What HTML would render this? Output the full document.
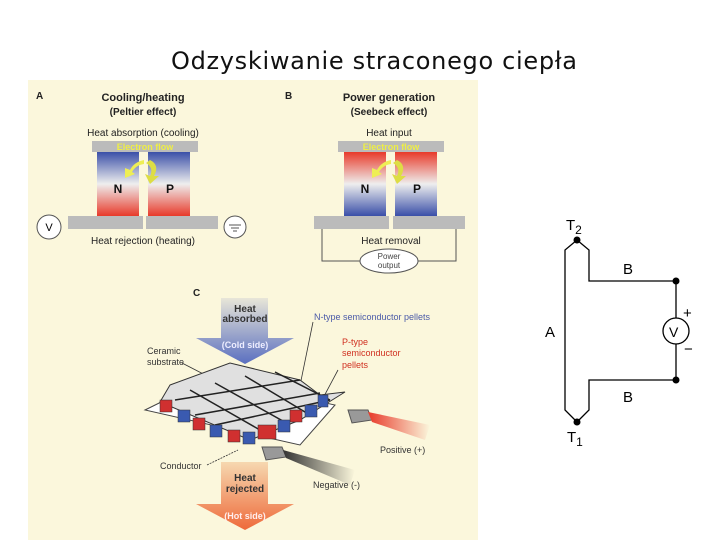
<!DOCTYPE html>
<html><head><meta charset="utf-8"><style>
body{margin:0;width:720px;height:540px;background:#fff;overflow:hidden;font-family:"Liberation Sans",sans-serif}
</style></head><body>
<svg width="720" height="540" viewBox="0 0 720 540" xmlns="http://www.w3.org/2000/svg" font-family="Liberation Sans, sans-serif">
<defs>
<linearGradient id="br" x1="0" y1="0" x2="0" y2="1"><stop offset="0" stop-color="#3a4fa8"/><stop offset="0.5" stop-color="#eee"/><stop offset="1" stop-color="#e83a2a"/></linearGradient>
<linearGradient id="rb" x1="0" y1="0" x2="0" y2="1"><stop offset="0" stop-color="#e83a2a"/><stop offset="0.5" stop-color="#eee"/><stop offset="1" stop-color="#3a4fa8"/></linearGradient>
<linearGradient id="blu" x1="0" y1="0" x2="0" y2="1"><stop offset="0" stop-color="#e8e6d8"/><stop offset="1" stop-color="#5a6fc0"/></linearGradient>
<linearGradient id="org" x1="0" y1="0" x2="0" y2="1"><stop offset="0" stop-color="#f6d8b0"/><stop offset="1" stop-color="#ee6a3a"/></linearGradient>
<linearGradient id="redw" x1="0" y1="0" x2="1" y2="0"><stop offset="0" stop-color="#e83a2a"/><stop offset="1" stop-color="#fbf7dc"/></linearGradient>
<linearGradient id="blkw" x1="0" y1="0" x2="1" y2="0"><stop offset="0" stop-color="#333"/><stop offset="1" stop-color="#fbf7dc"/></linearGradient>
</defs>
<text x="374" y="69" font-size="24" text-anchor="middle" fill="#111" textLength="406" lengthAdjust="spacing" font-family="DejaVu Sans, sans-serif">Odzyskiwanie straconego ciepła</text>
<rect x="28" y="80" width="450" height="460" fill="#fbf7dc"/>
<!-- A -->
<text x="36" y="99" font-size="10" font-weight="bold" fill="#222">A</text>
<text x="143" y="101" font-size="11" font-weight="bold" text-anchor="middle" fill="#222">Cooling/heating</text>
<text x="143" y="115" font-size="10" font-weight="bold" text-anchor="middle" fill="#222">(Peltier effect)</text>
<text x="143" y="136" font-size="10" text-anchor="middle" fill="#222">Heat absorption (cooling)</text>
<rect x="92" y="141" width="106" height="11" fill="#bbb"/>
<text x="145" y="150" font-size="9" font-weight="bold" text-anchor="middle" fill="#ee4">Electron flow</text>
<rect x="97" y="152" width="42" height="64" fill="url(#br)"/>
<rect x="148" y="152" width="42" height="64" fill="url(#br)"/>
<path d="M150 160 Q160 165 154 176 L159 176 L150 184 L145 174 L150 176 Q154 168 146 163Z" fill="#dd4"/>
<path d="M144 160 Q134 162 130 170 L125 168 L125 178 L135 174 L132 172 Q136 165 144 164Z" fill="#ee5"/>
<text x="118" y="193" font-size="12" font-weight="bold" text-anchor="middle" fill="#111">N</text>
<text x="170" y="193" font-size="12" font-weight="bold" text-anchor="middle" fill="#111">P</text>
<rect x="68" y="216" width="75" height="13" fill="#bbb"/><rect x="146" y="216" width="72" height="13" fill="#bbb"/>
<circle cx="49" cy="227" r="12" fill="#fff" stroke="#555"/><text x="49" y="231" font-size="11" text-anchor="middle">V</text>
<circle cx="235" cy="227" r="11" fill="#fff" stroke="#555"/>
<path d="M229 225h12M231 228h8M233 231h4" stroke="#555"/>
<text x="143" y="244" font-size="10" text-anchor="middle" fill="#222">Heat rejection (heating)</text>
<!-- B -->
<text x="285" y="99" font-size="10" font-weight="bold" fill="#222">B</text>
<text x="389" y="101" font-size="11" font-weight="bold" text-anchor="middle" fill="#222">Power generation</text>
<text x="389" y="115" font-size="10" font-weight="bold" text-anchor="middle" fill="#222">(Seebeck effect)</text>
<text x="389" y="136" font-size="10" text-anchor="middle" fill="#222">Heat input</text>
<rect x="338" y="141" width="106" height="11" fill="#bbb"/>
<text x="391" y="150" font-size="9" font-weight="bold" text-anchor="middle" fill="#ee4">Electron flow</text>
<rect x="344" y="152" width="42" height="64" fill="url(#rb)"/>
<rect x="395" y="152" width="42" height="64" fill="url(#rb)"/>
<path d="M397 160 Q407 165 401 176 L406 176 L397 184 L392 174 L397 176 Q401 168 393 163Z" fill="#dd4"/>
<path d="M391 160 Q381 162 377 170 L372 168 L372 178 L382 174 L379 172 Q383 165 391 164Z" fill="#ee5"/>
<text x="365" y="193" font-size="12" font-weight="bold" text-anchor="middle" fill="#111">N</text>
<text x="417" y="193" font-size="12" font-weight="bold" text-anchor="middle" fill="#111">P</text>
<rect x="314" y="216" width="75" height="13" fill="#bbb"/><rect x="393" y="216" width="72" height="13" fill="#bbb"/>
<path d="M322 229V261H360M418 261H456V229" fill="none" stroke="#555"/>
<text x="391" y="244" font-size="10" text-anchor="middle" fill="#222">Heat removal</text>
<ellipse cx="389" cy="261" rx="29" ry="12" fill="#fff" stroke="#555"/>
<text x="389" y="259" font-size="8" text-anchor="middle" fill="#444">Power</text>
<text x="389" y="268" font-size="8" text-anchor="middle" fill="#444">output</text>
<!-- C -->
<text x="193" y="296" font-size="10" font-weight="bold" fill="#222">C</text>
<path d="M221 298H268V338H294L245 364L196 338H221Z" fill="url(#blu)"/>
<text x="245" y="312" font-size="10" font-weight="bold" text-anchor="middle" fill="#333">Heat</text>
<text x="245" y="322" font-size="10" font-weight="bold" text-anchor="middle" fill="#333">absorbed</text>
<text x="245" y="348" font-size="9" font-weight="bold" text-anchor="middle" fill="#eef">(Cold side)</text>
<text x="314" y="320" font-size="9" fill="#4a5aa8">N-type semiconductor pellets</text>
<text x="342" y="345" font-size="9" fill="#d03020">P-type</text>
<text x="342" y="356" font-size="9" fill="#d03020">semiconductor</text>
<text x="342" y="368" font-size="9" fill="#d03020">pellets</text>
<text x="147" y="354" font-size="9" fill="#333">Ceramic</text>
<text x="147" y="365" font-size="9" fill="#333">substrate</text>
<path d="M182 363L215 380M313 322L295 410M338 370L322 400" stroke="#333" stroke-width="0.8"/>
<path d="M145 410L210 378L335 405L300 445Z" fill="#fff" stroke="#444"/>
<path d="M170 385L230 363L300 380L320 395L345 392L300 420L250 440L160 402Z" fill="#e0e0e0" stroke="#333"/>
<g stroke="#222" stroke-width="1.5"><path d="M175 400L300 380M195 415L320 393M215 425L330 400M190 390L260 430M215 383L290 425M245 376L310 415M275 372L330 400"/></g>
<g fill="#d03030" stroke="#333" stroke-width="0.5"><rect x="160" y="400" width="12" height="12"/><rect x="193" y="418" width="12" height="12"/><rect x="228" y="430" width="12" height="12"/><rect x="258" y="425" width="18" height="14"/><rect x="290" y="410" width="12" height="12"/></g>
<g fill="#3a5ab0" stroke="#333" stroke-width="0.5"><rect x="178" y="410" width="12" height="12"/><rect x="210" y="425" width="12" height="12"/><rect x="243" y="432" width="12" height="12"/><rect x="278" y="420" width="12" height="12"/><rect x="305" y="405" width="12" height="12"/><rect x="318" y="395" width="10" height="12"/></g>
<path d="M348 410H368L372 420L352 423Z" fill="#999" stroke="#555"/>
<path d="M368 412L430 425L425 440L372 422Z" fill="url(#redw)"/>
<path d="M262 447H282L286 457L266 460Z" fill="#999" stroke="#555"/>
<path d="M283 450L355 470L350 485L286 458Z" fill="url(#blkw)"/>
<text x="380" y="453" font-size="9" fill="#333">Positive (+)</text>
<text x="313" y="488" font-size="9" fill="#333">Negative (-)</text>
<text x="160" y="469" font-size="9" fill="#333">Conductor</text>
<path d="M207 465L238 450" stroke="#333" stroke-width="0.8" stroke-dasharray="2,1"/>
<path d="M221 462H268V504H294L245 530L196 504H221Z" fill="url(#org)"/>
<text x="245" y="481" font-size="10" font-weight="bold" text-anchor="middle" fill="#333">Heat</text>
<text x="245" y="492" font-size="10" font-weight="bold" text-anchor="middle" fill="#333">rejected</text>
<text x="245" y="519" font-size="9" font-weight="bold" text-anchor="middle" fill="#fee">(Hot side)</text>
<!-- circuit -->
<g stroke="#000" stroke-width="1.3" fill="none">
<path d="M577 240L565 250V410L577 422"/>
<path d="M577 240L589 250V281H676V318M676 344V380H589V410L577 422"/>
<circle cx="676" cy="331" r="13"/>
</g>
<g fill="#000"><circle cx="577" cy="240" r="3.5"/><circle cx="676" cy="281" r="3.5"/><circle cx="676" cy="380" r="3.5"/><circle cx="577" cy="422" r="3.5"/></g>
<g font-size="15" fill="#000">
<text x="566" y="230">T<tspan font-size="12" dy="4">2</tspan></text>
<text x="623" y="274">B</text>
<text x="545" y="337">A</text>
<text x="623" y="402">B</text>
<text x="567" y="442">T<tspan font-size="12" dy="4">1</tspan></text>
<text x="669" y="337" font-size="14">V</text>
<text x="683" y="318">+</text>
<text x="684" y="354">−</text>
</g>
</svg>
</body></html>
